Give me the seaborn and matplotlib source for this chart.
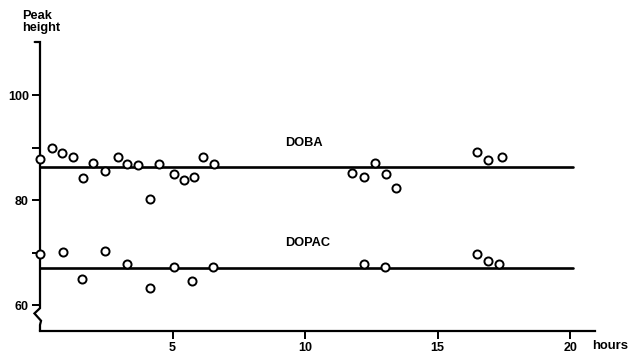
import matplotlib
matplotlib.use("Agg")
import matplotlib.pyplot as plt
import seaborn as sns
import pandas as pd

sns.set_theme(style="white")
plt.rcParams['font.family'] = ['Liberation Sans', 'DejaVu Sans']
plt.rcParams['text.color'] = 'black'
plt.rcParams['xtick.color'] = 'black'
plt.rcParams['ytick.color'] = 'black'
plt.rcParams['xtick.labelcolor'] = 'black'
plt.rcParams['ytick.labelcolor'] = 'black'

# DOBA measurements (hours, peak height)
doba_hours = [0.0, 0.44, 0.83, 1.23, 1.63, 2.01, 2.46, 2.93, 3.29, 3.69, 4.15, 4.50,
              5.06, 5.42, 5.80, 6.16, 6.57, 11.77, 12.23, 12.64, 13.06, 13.42,
              16.47, 16.91, 17.43]
doba_peak = [87.8, 90.0, 88.9, 88.2, 84.2, 87.0, 85.5, 88.1, 86.8, 86.7, 80.2, 86.9,
             85.0, 83.8, 84.4, 88.1, 86.8, 85.1, 84.3, 87.1, 85.0, 82.2,
             89.1, 87.6, 88.2]

# DOPAC measurements
dopac_hours = [0.0, 0.85, 1.60, 2.45, 3.27, 4.15, 5.06, 5.73, 6.54,
               12.24, 13.02, 16.50, 16.90, 17.33]
dopac_peak = [69.7, 70.1, 64.9, 70.2, 67.8, 63.2, 67.2, 64.6, 67.2,
              67.9, 67.2, 69.7, 68.3, 67.9]

# Mean lines
line_hours = [0.0, 20.1]
doba_mean = 86.3
dopac_mean = 67.1

y_ticks = [60, 80, 100]
y_minor = [70, 90]
x_ticks = [5, 10, 15, 20]

fig = plt.figure(figsize=(6.35, 3.56), dpi=100)
ax = fig.add_axes([40 / 635, 25 / 356, 555 / 635, 289 / 356])

lines_df = pd.DataFrame({
    "hours": line_hours * 2,
    "peak": [doba_mean] * 2 + [dopac_mean] * 2,
    "series": ["DOBA"] * 2 + ["DOPAC"] * 2,
})
sns.lineplot(data=lines_df, x="hours", y="peak", units="series", estimator=None,
             color="black", linewidth=1.9, ax=ax, zorder=2)

pts = pd.DataFrame({
    "hours": doba_hours + dopac_hours,
    "peak": doba_peak + dopac_peak,
})
sns.scatterplot(data=pts, x="hours", y="peak", marker="o", s=34,
                facecolor="white", edgecolor="black", linewidth=1.4,
                ax=ax, zorder=3, clip_on=False)

ax.set_xlim(0, 20.94)
ax.set_ylim(55.05, 110.1)

for s in ["top", "right", "left"]:
    ax.spines[s].set_visible(False)
ax.spines["bottom"].set_linewidth(1.6)
ax.spines["bottom"].set_color("black")

# left axis with top stub and break
ax.plot([-0.2, 0, 0, -0.21, 0.04, 0.0, 0.0],
        [110.1, 110.1, 59.4, 58.4, 57.0, 56.2, 55.05],
        color="black", linewidth=1.6, clip_on=False, zorder=1,
        solid_joinstyle="miter")

ax.set_yticks(y_ticks)
ax.set_yticks(y_minor, minor=True)
ax.set_xticks(x_ticks)
ax.tick_params(axis="y", which="both", direction="out", length=6, width=1.4,
               color="black", labelcolor="black", labelsize=9, pad=2, left=True)
ax.tick_params(axis="x", direction="out", length=6, width=1.4, color="black",
               labelcolor="black", labelsize=9, pad=2, bottom=True)
for lab in ax.get_xticklabels() + ax.get_yticklabels():
    lab.set_fontweight("bold")
ax.set_xlabel("")
ax.set_ylabel("")

ax.text(9.96, 90.9, "DOBA", ha="center", va="center", fontsize=9.2,
        fontweight="bold", color="black")
ax.text(10.1, 71.8, "DOPAC", ha="center", va="center", fontsize=9.2,
        fontweight="bold", color="black")

fig.text(22 / 635, 1 - 22 / 356, "Peak\nheight", ha="left", va="center",
         fontsize=9.2, fontweight="bold", linespacing=1.0, color="black")
fig.text(592 / 635, 1 - 346 / 356, "hours", ha="left", va="center",
         fontsize=9.4, fontweight="bold", color="black")

fig.savefig("out.png", dpi=100)
